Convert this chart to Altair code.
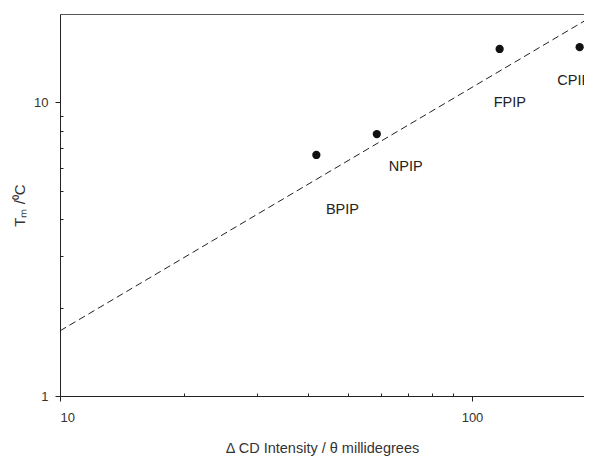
import altair as alt
import pandas as pd

# Data points
proteins = ["BPIP", "NPIP", "FPIP", "CPIP"]
cd_intensity = [41.9, 58.75, 116.7, 182.5]
tm_values = [6.62, 7.80, 15.2, 15.42]

# Label anchor positions (left edge, vertical middle)
label_x = [44.2, 62.8, 112.9, 161.1]
label_y = [4.30, 6.04, 9.97, 11.8]

# Dashed fit line end points
fit_x = [10, 187]
fit_y = [1.667, 18.9]

# Axis ticks
x_major = [10, 100]
y_major = [1, 10]
x_minor = [20, 30, 40, 50, 60, 70, 80, 90]
y_minor = [2, 3, 4, 5, 6, 7, 8, 9]

x_domain = [10, 187]
y_domain = [1, 20]

W, H = 524, 382
FONT = "Liberation Sans"

pts = pd.DataFrame({"x": cd_intensity, "y": tm_values, "name": proteins})
labels = pd.DataFrame({"x": label_x, "y": label_y, "name": proteins})
fit = pd.DataFrame({"x": fit_x, "y": fit_y})

xs = alt.Scale(type="log", domain=x_domain, nice=False)
ys = alt.Scale(type="log", domain=y_domain, nice=False)

line = alt.Chart(fit).mark_line(
    color="#222", strokeWidth=1, strokeDash=[7, 4], clip=True
).encode(
    x=alt.X("x:Q", scale=xs, axis=alt.Axis(
        orient="top", offset=-H, values=x_minor, labels=False, domain=False,
        grid=False, ticks=True, tickSize=3, tickColor="#222", title=None)),
    y=alt.Y("y:Q", scale=ys, axis=alt.Axis(
        orient="right", offset=-W, values=y_minor, labels=False, domain=False,
        grid=False, ticks=True, tickSize=3, tickColor="#222", title=None)),
)

points = alt.Chart(pts).mark_circle(color="#111", opacity=1, size=68).encode(
    x=alt.X("x:Q", scale=xs, axis=alt.Axis(
        orient="bottom", values=x_major, format="d", grid=False,
        tickSize=5, tickColor="#222", domainColor="#222",
        labelFont=FONT, labelFontSize=13, labelColor="#333", labelPadding=10,
        title="Δ CD Intensity / θ millidegrees",
        titleFont=FONT, titleFontSize=14.5, titleFontWeight="normal",
        titleColor="#333", titlePadding=17)),
    y=alt.Y("y:Q", scale=ys, axis=alt.Axis(
        orient="left", values=y_major, format="d", grid=False,
        tickSize=5, tickColor="#222", domainColor="#222",
        labelFont=FONT, labelFontSize=13, labelColor="#333", labelPadding=7,
        title="Tₘ /⁰C",
        titleFont=FONT, titleFontSize=15, titleFontWeight="normal",
        titleColor="#333", titlePadding=6)),
)

text = alt.Chart(labels).mark_text(
    align="left", baseline="middle", font=FONT, fontSize=14.5, color="#222"
).encode(
    x=alt.X("x:Q", scale=xs, axis=alt.Axis(
        orient="top", values=[], labels=False, ticks=False, grid=False,
        domain=True, domainColor="#555", domainWidth=1.2, title=None)),
    y=alt.Y("y:Q", scale=ys, axis=None),
    text="name:N",
)

chart = alt.layer(line, points, text).resolve_axis(
    x="independent", y="independent"
).properties(
    width=W, height=H,
    autosize=alt.AutoSizeParams(type="none"),
    padding={"left": 52, "top": 6, "right": 0, "bottom": 60},
).configure_view(strokeWidth=0)

chart.save("out.html", embed_options={"renderer": "svg", "actions": False})
